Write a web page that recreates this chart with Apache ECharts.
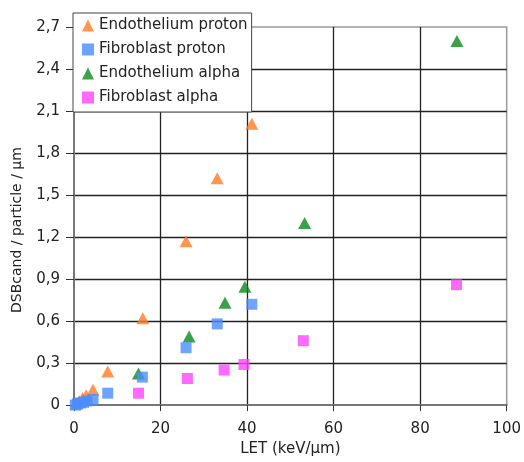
<!DOCTYPE html>
<html>
<head>
<meta charset="utf-8">
<script src="https://cdn.jsdelivr.net/npm/echarts@6/dist/echarts.min.js"></script>
<style>html,body{margin:0;padding:0;background:#fff}#c{width:524px;height:462px}</style>
</head>
<body>
<div id="c"></div>
<script>
var seriesNames = ['Endothelium proton', 'Fibroblast proton', 'Endothelium alpha', 'Fibroblast alpha'];
var endoProtonX = [0.5, 1.2, 2.0, 2.8, 4.4, 7.8, 15.9, 25.9, 33.1, 41.1];
var endoProtonY = [0.01, 0.03, 0.05, 0.07, 0.11, 0.24, 0.62, 1.17, 1.62, 2.01];
var fibroProtonX = [0.3, 0.8, 1.5, 2.2, 3.0, 4.4, 7.8, 15.8, 25.9, 33.1, 41.1];
var fibroProtonY = [0.0, 0.01, 0.015, 0.02, 0.03, 0.04, 0.085, 0.20, 0.41, 0.58, 0.72];
var endoAlphaX = [14.9, 26.6, 34.9, 39.5, 53.3, 88.5];
var endoAlphaY = [0.225, 0.49, 0.73, 0.845, 1.30, 2.60];
var fibroAlphaX = [14.9, 26.2, 34.7, 39.3, 53.0, 88.4];
var fibroAlphaY = [0.085, 0.19, 0.25, 0.29, 0.46, 0.86];
var xTickLabels = ['0', '20', '40', '60', '80', '100'];
var yTickLabels = ['0', '0,3', '0,6', '0,9', '1,2', '1,5', '1,8', '2,1', '2,4', '2,7'];
var xTitle = 'LET (keV/\u00b5m)';
var yTitle = 'DSBcand / particle / \u00b5m';

function pairs(xs, ys) { return xs.map(function (x, i) { return [x, ys[i]]; }); }

var FONT = 'DejaVu Sans';
var chart = echarts.init(document.getElementById('c'), null, { renderer: 'canvas' });
chart.setOption({
  animation: false,
  backgroundColor: '#fff',
  grid: { left: 74, right: 14, top: 27, bottom: 51, show: true, borderColor: '#9a9a9a', borderWidth: 1.5, containLabel: false },
  xAxis: {
    type: 'value', min: 0, max: 100, interval: 20,
    name: xTitle, nameLocation: 'middle', nameGap: 33,
    nameTextStyle: { fontFamily: FONT, fontSize: 15, color: '#222' },
    axisLine: { show: true, lineStyle: { color: '#777', width: 2 } },
    axisTick: { show: true, inside: false, length: 6, lineStyle: { color: '#333', width: 1 } },
    axisLabel: { margin: 17, fontFamily: FONT, fontSize: 15, color: '#222',
      formatter: function (v) { return xTickLabels[Math.round(v / 20)]; } },
    splitLine: { show: true, showMinLine: false, showMaxLine: false, lineStyle: { color: '#222', width: 1.3 } }
  },
  yAxis: {
    type: 'value', min: 0, max: 2.7, interval: 0.3,
    name: yTitle, nameLocation: 'middle', nameGap: 50,
    nameTextStyle: { fontFamily: FONT, fontSize: 14, color: '#222', padding: [0, 28, 0, 0] },
    axisLine: { show: true, lineStyle: { color: '#777', width: 2 } },
    axisTick: { show: true, inside: false, length: 8, lineStyle: { color: '#333', width: 1 } },
    axisLabel: { margin: 14, fontFamily: FONT, fontSize: 15, color: '#222',
      formatter: function (v) { return yTickLabels[Math.round(v / 0.3)]; } },
    splitLine: { show: true, showMinLine: false, showMaxLine: false, lineStyle: { color: '#222', width: 1.3 } }
  },
  legend: {
    orient: 'vertical', left: 73, top: 13,
    padding: [5, 4, 7, 9], itemGap: 9, itemWidth: 12, itemHeight: 12,
    backgroundColor: '#fff', borderColor: '#444', borderWidth: 1,
    textStyle: { fontFamily: FONT, fontSize: 15, color: '#222' },
    data: seriesNames
  },
  series: [
    { name: seriesNames[0], type: 'scatter', symbol: 'triangle', symbolSize: [13, 12],
      itemStyle: { color: '#FF7A22' }, data: pairs(endoProtonX, endoProtonY), z: 3 },
    { name: seriesNames[1], type: 'scatter', symbol: 'rect', symbolSize: 11,
      itemStyle: { color: '#4A8CFF' }, data: pairs(fibroProtonX, fibroProtonY), z: 4 },
    { name: seriesNames[2], type: 'scatter', symbol: 'triangle', symbolSize: [13, 12],
      itemStyle: { color: '#0A8A1A' }, data: pairs(endoAlphaX, endoAlphaY), z: 3 },
    { name: seriesNames[3], type: 'scatter', symbol: 'rect', symbolSize: 11,
      itemStyle: { color: '#FF44FF' }, data: pairs(fibroAlphaX, fibroAlphaY), z: 4 }
  ]
});
</script>
</body>
</html>
